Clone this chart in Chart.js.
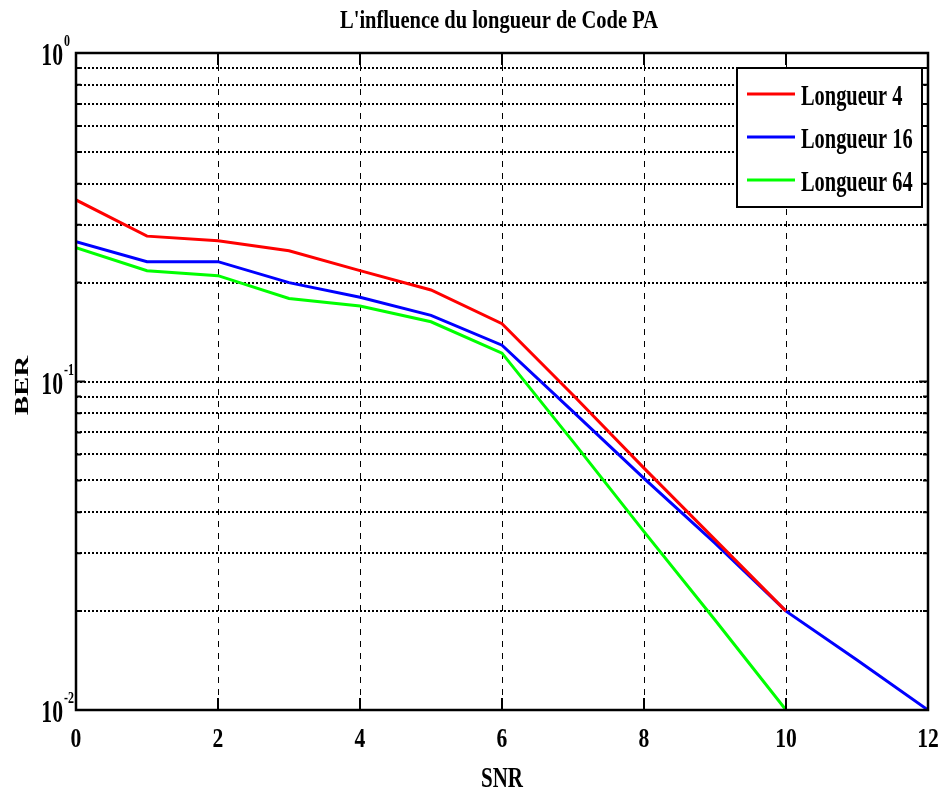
<!DOCTYPE html>
<html>
<head>
<meta charset="utf-8">
<title>L'influence du longueur de Code PA</title>
<script src="https://cdn.jsdelivr.net/npm/chart.js@4.4.1/dist/chart.umd.min.js"></script>
<style>
  html, body { margin: 0; padding: 0; background: #ffffff; }
  canvas { display: block; }
</style>
</head>
<body>
<canvas id="berChart" width="941" height="791"></canvas>
<script>
// ---- data ----
const snr = [0, 1, 2, 3, 4, 5, 6, 7, 8, 9, 10, 11, 12];
const berLongueur4  = [0.357, 0.277, 0.268, 0.250, 0.2175, 0.190, 0.150, 0.091, 0.0545, 0.033, 0.020];
const berLongueur16 = [0.2665, 0.2316, 0.2316, 0.200, 0.1805, 0.159, 0.129, 0.081, 0.0507, 0.0322, 0.020, 0.0142, 0.010];
const berLongueur64 = [0.2555, 0.2175, 0.210, 0.179, 0.1698, 0.152, 0.122, 0.0656, 0.0349, 0.0188, 0.010];

const seriesLabels = ['Longueur 4', 'Longueur 16', 'Longueur 64'];
const seriesColors = ['#ff0000', '#0000ff', '#00ff00'];

const xTicks = [0, 2, 4, 6, 8, 10, 12];
const yGridValues = [0.01, 0.02, 0.03, 0.04, 0.05, 0.06, 0.07, 0.08, 0.09,
                     0.1, 0.2, 0.3, 0.4, 0.5, 0.6, 0.7, 0.8, 0.9, 1];
const yLabelValues = [0.01, 0.1, 1];

const chartTitle = "L'influence du longueur de Code PA";
const xAxisTitle = 'SNR';
const yAxisTitle = 'BER';

// ---- helpers ----
const FONT = '"Liberation Serif", "Times New Roman", serif';

function toPoints(values) {
  return values.map((v, i) => ({ x: snr[i], y: v }));
}

// narrow bold serif text, squeezed horizontally
function squeezedText(ctx, text, x, y, size, sx, align) {
  ctx.save();
  ctx.font = 'bold ' + size + 'px ' + FONT;
  ctx.fillStyle = '#000';
  ctx.textAlign = align;
  ctx.textBaseline = 'alphabetic';
  ctx.translate(x, y);
  ctx.scale(sx, 1);
  ctx.fillText(text, 0, 0);
  ctx.restore();
}

// axes box, inward tick marks, labels, titles and boxed legend
const framePlugin = {
  id: 'frame',
  afterDatasetsDraw(chart) {
    const ctx = chart.ctx;
    const a = chart.chartArea;
    const xs = chart.scales.x, ys = chart.scales.y;
    ctx.save();
    ctx.strokeStyle = '#000';
    ctx.lineWidth = 2;
    ctx.setLineDash([]);
    ctx.beginPath();
    xTicks.forEach(v => {
      const px = xs.getPixelForValue(v);
      ctx.moveTo(px, a.bottom); ctx.lineTo(px, a.bottom - 12);
      ctx.moveTo(px, a.top);    ctx.lineTo(px, a.top + 12);
    });
    yGridValues.forEach(v => {
      const py = ys.getPixelForValue(v);
      const len = yLabelValues.includes(v) ? 9 : 5;
      ctx.moveTo(a.left, py);  ctx.lineTo(a.left + len, py);
      ctx.moveTo(a.right, py); ctx.lineTo(a.right - len, py);
    });
    ctx.stroke();
    ctx.lineWidth = 2.5;
    ctx.strokeRect(a.left, a.top, a.right - a.left, a.bottom - a.top);
    ctx.restore();
  },
  afterDraw(chart) {
    const ctx = chart.ctx;
    const a = chart.chartArea;
    const xs = chart.scales.x, ys = chart.scales.y;
    const cx = (a.left + a.right) / 2;

    // title
    squeezedText(ctx, chartTitle, cx - 3, 28, 25, 0.82, 'center');

    // x tick labels
    xTicks.forEach(v => {
      squeezedText(ctx, String(v), xs.getPixelForValue(v), a.bottom + 37, 27, 0.8, 'center');
    });

    // y tick labels: 10 with exponent
    yLabelValues.forEach(v => {
      const py = ys.getPixelForValue(v);
      const exp = Math.round(Math.log10(v));
      squeezedText(ctx, '10', a.left - 13, py + 12, 31, 0.7, 'right');
      squeezedText(ctx, String(exp), a.left - 12, py - 7, 16, 0.75, 'left');
    });

    // axis titles
    squeezedText(ctx, xAxisTitle, cx, a.bottom + 77, 30, 0.7, 'center');
    ctx.save();
    ctx.font = 'bold 29px ' + FONT;
    ctx.fillStyle = '#000';
    ctx.textAlign = 'center';
    ctx.textBaseline = 'alphabetic';
    ctx.translate(28, (a.top + a.bottom) / 2 + 4);
    ctx.scale(0.62, 1);
    ctx.rotate(-Math.PI / 2);
    ctx.fillText(yAxisTitle, 0, 0);
    ctx.restore();

    // legend
    const box = { left: 737, top: 68, right: 922, bottom: 207 };
    ctx.save();
    ctx.fillStyle = '#fff';
    ctx.fillRect(box.left, box.top, box.right - box.left, box.bottom - box.top);
    ctx.strokeStyle = '#000';
    ctx.lineWidth = 2;
    ctx.strokeRect(box.left, box.top, box.right - box.left, box.bottom - box.top);
    chart.data.datasets.forEach((ds, i) => {
      const rowY = 94 + i * 43;
      ctx.strokeStyle = ds.borderColor;
      ctx.lineWidth = 3;
      ctx.beginPath();
      ctx.moveTo(747, rowY);
      ctx.lineTo(795, rowY);
      ctx.stroke();
      squeezedText(ctx, ds.label, 801, rowY + 11, 30, 0.68, 'left');
    });
    ctx.restore();
  }
};

const datasets = [berLongueur4, berLongueur16, berLongueur64].map((vals, i) => ({
  label: seriesLabels[i],
  data: toPoints(vals),
  borderColor: seriesColors[i],
  backgroundColor: seriesColors[i],
  borderWidth: 3,
  pointRadius: 0,
  tension: 0,
  fill: false
}));

new Chart(document.getElementById('berChart'), {
  type: 'line',
  data: { datasets },
  options: {
    responsive: false,
    animation: false,
    devicePixelRatio: 1,
    layout: { padding: { left: 76, right: 13, top: 53, bottom: 81 } },
    plugins: {
      legend: { display: false },
      title: { display: false },
      tooltip: { enabled: false }
    },
    scales: {
      x: {
        type: 'linear',
        min: 0,
        max: 12,
        afterBuildTicks: scale => { scale.ticks = xTicks.map(v => ({ value: v })); },
        ticks: { display: false },
        border: { display: false, dash: [6, 6] },
        grid: {
          drawTicks: false,
          lineWidth: 1,
          color: c => (c.tick && (c.tick.value === 0 || c.tick.value === 12)) ? 'rgba(0,0,0,0)' : '#000'
        }
      },
      y: {
        type: 'logarithmic',
        min: 0.01,
        max: 1,
        afterBuildTicks: scale => { scale.ticks = yGridValues.map(v => ({ value: v })); },
        ticks: { display: false },
        border: { display: false, dash: [2, 2] },
        grid: {
          drawTicks: false,
          lineWidth: 2,
          color: c => (c.tick && (c.tick.value === 0.01 || c.tick.value === 1)) ? 'rgba(0,0,0,0)' : '#000'
        }
      }
    }
  },
  plugins: [framePlugin]
});
</script>
</body>
</html>
